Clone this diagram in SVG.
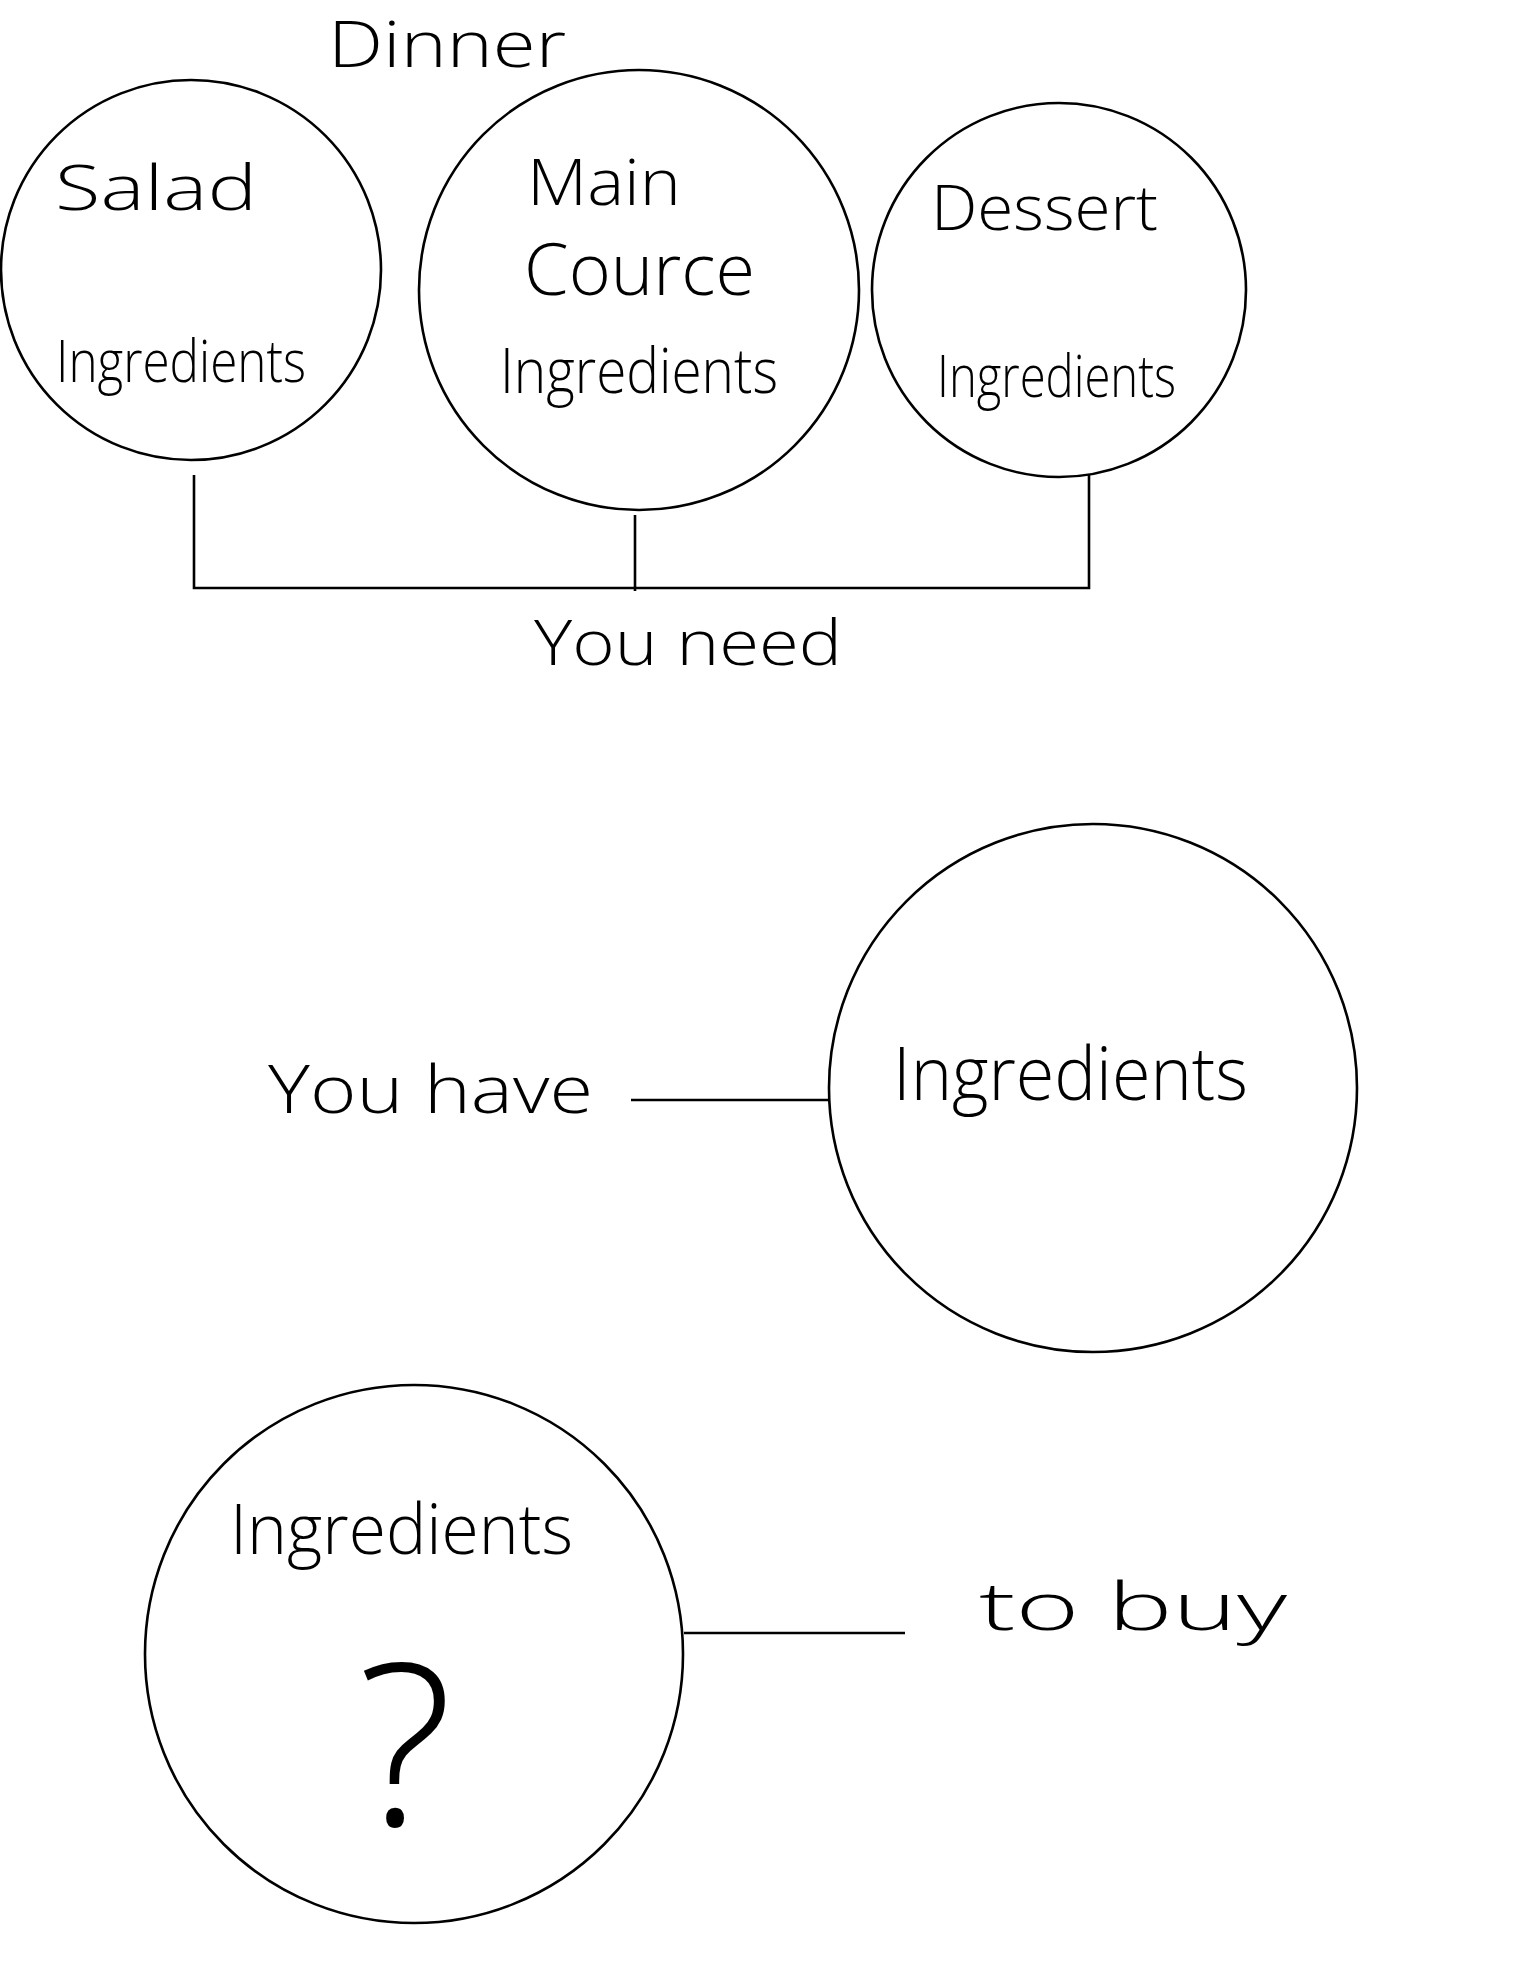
<svg xmlns="http://www.w3.org/2000/svg" width="1536" height="1964" viewBox="0 0 1536 1964">
<style>
.bg{fill:#ffffff}
.node{fill:none;stroke:#000;stroke-width:2.6}
.conn{fill:none;stroke:#000;stroke-width:2.6;stroke-linecap:butt;stroke-linejoin:miter}
.t{font-family:"Open Sans","Liberation Sans",sans-serif;font-weight:300;fill:#000}
</style>
<rect class="bg" x="0" y="0" width="1536" height="1964"/>
<g id="title">
<text class="t" x="328" y="67" font-size="64" textLength="238" lengthAdjust="spacingAndGlyphs">Dinner</text>
</g>
<g id="connectors">
<polyline class="conn" points="194,475 194,588 1089,588 1089,475"/>
<line class="conn" x1="635" y1="515" x2="635" y2="591"/>
<line class="conn" x1="631" y1="1100" x2="829" y2="1100"/>
<line class="conn" x1="684" y1="1633" x2="905" y2="1633"/>
</g>
<g id="salad">
<circle class="node" cx="191" cy="270" r="190"/>
<text class="t" x="55" y="210" font-size="62" textLength="202" lengthAdjust="spacingAndGlyphs">Salad</text>
<text class="t" x="56" y="382" font-size="58" textLength="250" lengthAdjust="spacingAndGlyphs">Ingredients</text>
</g>
<g id="main-course">
<circle class="node" cx="639" cy="290" r="220"/>
<text class="t" x="527" y="205" font-size="64" textLength="154" lengthAdjust="spacingAndGlyphs">Main</text>
<text class="t" x="524" y="295" font-size="72" textLength="231" lengthAdjust="spacingAndGlyphs">Cource</text>
<text class="t" x="500" y="393" font-size="62" textLength="278" lengthAdjust="spacingAndGlyphs">Ingredients</text>
</g>
<g id="dessert">
<circle class="node" cx="1059" cy="290" r="187"/>
<text class="t" x="931" y="230" font-size="62" textLength="227" lengthAdjust="spacingAndGlyphs">Dessert</text>
<text class="t" x="937" y="397" font-size="58" textLength="239" lengthAdjust="spacingAndGlyphs">Ingredients</text>
</g>
<g id="you-need">
<text class="t" x="534" y="665" font-size="62" textLength="308" lengthAdjust="spacingAndGlyphs">You need</text>
</g>
<g id="you-have">
<text class="t" x="268" y="1113" font-size="66" textLength="325" lengthAdjust="spacingAndGlyphs">You have</text>
</g>
<g id="ingredients-have">
<circle class="node" cx="1093" cy="1088" r="264"/>
<text class="t" x="893" y="1100" font-size="74" textLength="355" lengthAdjust="spacingAndGlyphs">Ingredients</text>
</g>
<g id="ingredients-buy">
<circle class="node" cx="414" cy="1654" r="269"/>
<text class="t" x="230" y="1554" font-size="70" textLength="343" lengthAdjust="spacingAndGlyphs">Ingredients</text>
<text class="t" x="405" y="1826" font-size="225" text-anchor="middle" textLength="95" lengthAdjust="spacingAndGlyphs">?</text>
</g>
<g id="to-buy">
<text class="t" x="979" y="1630" font-size="66" textLength="308" lengthAdjust="spacingAndGlyphs">to buy</text>
</g>
</svg>
